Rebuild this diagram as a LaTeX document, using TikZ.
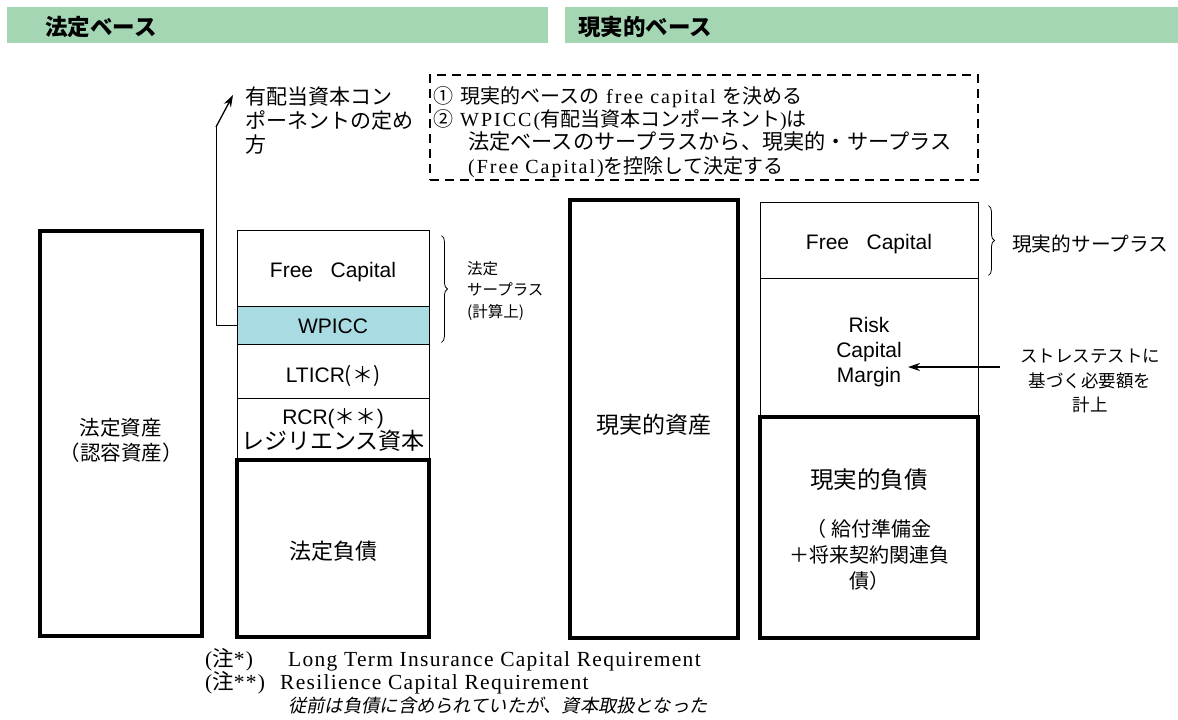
\documentclass[tikz,border=0pt]{standalone}
\usepackage{fontspec}
\setmainfont{Liberation Sans}
\newfontfamily\jp{Noto Sans CJK JP}
\newfontfamily\srf{Liberation Serif}[LetterSpace=10]
\newfontfamily\srfn{Liberation Serif}[LetterSpace=6]
\newfontfamily\jpsl{Noto Sans CJK JP}[FakeSlant=0.2]
\newcommand\J[1]{{\jp #1}}
\newcommand\fs[2]{\fontsize{#1}{#2}\selectfont}
\usetikzlibrary{arrows.meta,decorations.pathreplacing}
\definecolor{hdr}{HTML}{A4D6B4}
\definecolor{wpc}{HTML}{A8DCE2}
\begin{document}
\begin{tikzpicture}[x=1pt,y=-1pt,
  thinbox/.style={draw,line width=0.9pt,inner sep=0pt},
  thickbox/.style={draw,line width=3.6pt,inner sep=0pt},
  hdrbar/.style={fill=hdr,draw=none,inner sep=0pt},
  hdrtext/.style={anchor=west,inner sep=0pt,font=\jp\bfseries\fs{22.5}{26}},
  txt/.style={inner sep=0pt,align=center},
  brc/.style={decorate,decoration={brace,amplitude=6pt},line width=0.8pt},
  arr/.style={line width=1.3pt,-{Stealth[length=12pt,width=8pt]}}]
\useasboundingbox (0,0) rectangle (1178,720);

% headers
\node[hdrbar,minimum width=541pt,minimum height=36pt] (h1) at (277.5,25) {};
\node[hdrtext] (h1t) at (45,27) {法定ベース};
\node[hdrbar,minimum width=613pt,minimum height=36pt] (h2) at (871.5,25) {};
\node[hdrtext] (h2t) at (578,27) {現実的ベース};

% legal base
\node[thickbox,minimum width=162pt,minimum height=405pt] (la) at (121,433.5) {};
\node[txt,font=\jp\fs{20.5}{25}] (lat) at ([yshift=-7pt]la.center) {法定資産\\（認容資産）};
\node[thinbox,minimum width=192pt,minimum height=76pt] (fc1) at (333,268) {};
\node[txt,font=\fs{21}{25}] (fc1t) at ([yshift=-4pt]fc1.center) {Free\ \ \ Capital};
\node[thinbox,fill=wpc,minimum width=192pt,minimum height=38pt] (wp) at (333,325) {};
\node[txt,font=\fs{21}{25}] (wpt) at ([yshift=-1pt]wp.center) {WPICC};
\node[thinbox,minimum width=192pt,minimum height=54pt] (lt) at (333,371) {};
\node[txt,font=\fs{21}{25}] (ltt) at ([yshift=-5pt]lt.center) {LTICR\J{(＊)}};
\node[thinbox,minimum width=192pt,minimum height=62pt] (rc) at (333,429) {};
\node[txt,font=\fs{21}{25}] (rct) at ([yshift=-1pt]rc.center) {RCR(\J{＊＊})\\{\jp\fs{23}{25}レジリエンス資本}};
\node[thickbox,minimum width=192pt,minimum height=177pt] (ll) at (333,548.5) {};
\node[txt,font=\jp\fs{22}{25}] (llt) at ([yshift=-3pt]ll.center) {法定負債};

\draw[brc] ([xshift=12pt,yshift=-6pt]fc1.north east) -- ([xshift=12pt,yshift=2pt]wp.south east);
\node[anchor=north west,inner sep=0pt,align=left,font=\jp\fs{15.5}{21.5}] (ls) at (467,261) {法定\\サープラス\\(計算上)};

% arrow to label
\coordinate (a1) at (216,127);
\coordinate (a2) at (233,95);
\draw[line width=0.9pt] (wp.west) -| (a1);
\draw[arr] (a1) -- (a2);
\node[anchor=north west,inner sep=0pt,align=left,font=\jp\fs{21}{24}] (lab) at (245,87) {有配当資本コン\\ポーネントの定め\\方};

% dashed box
\node[draw,dashed,dash pattern=on 9pt off 6pt,line width=2.6pt,minimum width=548pt,minimum height=105pt,inner sep=0pt] (db) at (704,127.5) {};
\node[anchor=north west,inner sep=0pt,align=left,font=\srf\fs{20}{23.3}] (dbt) at (433,86) {%
\J{①} \J{現実的ベースの} free capital \J{を決める}\\
\J{②} WPICC(\J{有配当資本コンポーネント})\J{は}\\
\hspace*{35pt}{\jp\fs{21.2}{23.3}法定ベースのサープラスから、現実的・サープラス}\\
\hspace*{35pt}(Free Capital)\J{を控除して決定する}};

% real base
\node[thickbox,minimum width=168pt,minimum height=438pt] (ra) at (654,419) {};
\node[txt,font=\jp\fs{23}{25}] (rat) at ([yshift=-6pt]ra.center) {現実的資産};
\node[thinbox,minimum width=218pt,minimum height=76pt] (fc2) at (869,240) {};
\node[txt,font=\fs{21}{25}] (fc2t) at ([yshift=-4pt]fc2.center) {Free\ \ \ Capital};
\node[thinbox,minimum width=218pt,minimum height=139pt] (rm) at (869,347.5) {};
\node[txt,font=\fs{21}{25}] (rmt) at ([yshift=-5pt]rm.center) {Risk\\Capital\\Margin};
\node[thickbox,minimum width=218pt,minimum height=221pt] (rl) at (869,527.5) {};
\node[txt,font=\jp\fs{20}{26}] (rlt) at ([yshift=-2pt]rl.center) {{\fs{23.5}{26}現実的負債}\\[22pt]（ 給付準備金\\＋将来契約関連負\\債）};

\draw[brc] ([xshift=10pt,yshift=-4pt]fc2.north east) -- ([xshift=10pt,yshift=3pt]fc2.south east);
\node[anchor=west,inner sep=0pt,font=\jp\fs{19.7}{24}] (rs) at (1012,244) {現実的サープラス};

\node[txt,font=\jp\fs{17.5}{24.5}] (st) at (1090,381) {ストレステストに\\基づく必要額を\\計上};
\coordinate (s1) at (1000,367);
\coordinate (s2) at (908,367);
\draw[arr] (s1) -- (s2);

% notes
\node[anchor=west,inner sep=0pt,font=\srfn\fs{21.5}{23}] (n1) at (205,660) {\makebox[83pt][l]{(\J{注}*)}Long Term Insurance Capital Requirement};
\node[anchor=west,inner sep=0pt,font=\srfn\fs{21.5}{23}] (n2) at (205,683) {\makebox[75pt][l]{(\J{注}**)}Resilience Capital Requirement};
\node[anchor=west,inner sep=0pt,font=\jpsl\fs{18.3}{23}] (n3) at (288,706) {従前は負債に含められていたが、資本取扱となった};
\end{tikzpicture}
\end{document}
